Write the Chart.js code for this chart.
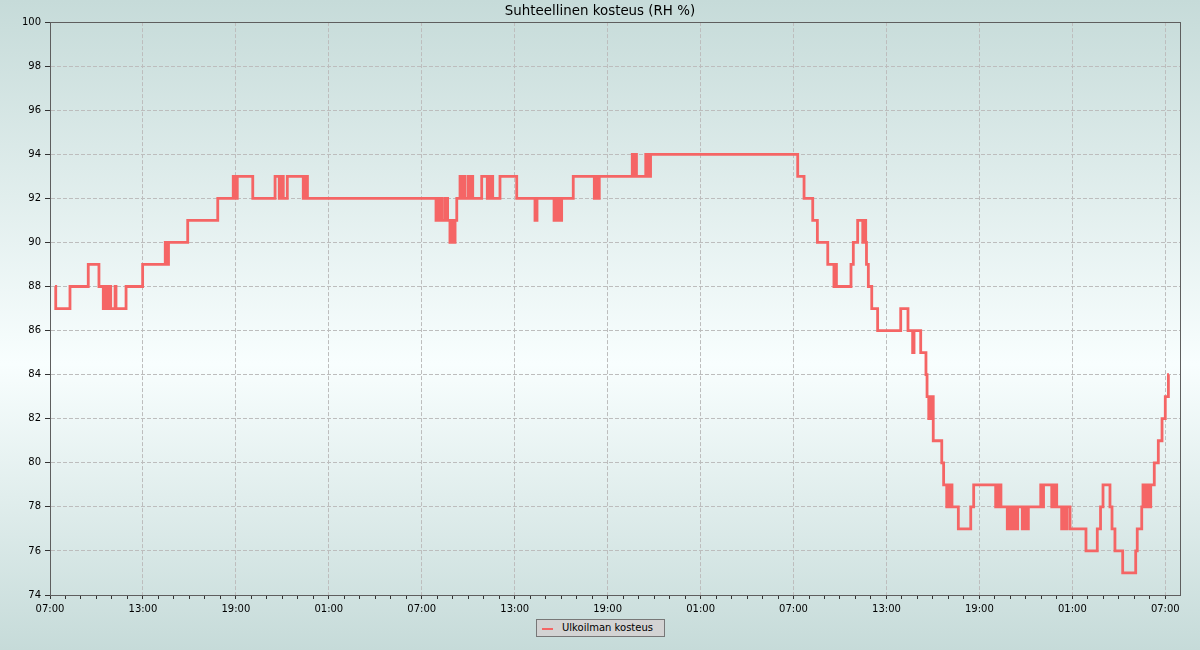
<!DOCTYPE html>
<html>
<head>
<meta charset="utf-8">
<script src="https://cdn.jsdelivr.net/npm/chart.js@4/dist/chart.umd.min.js"></script>
<style>
  html, body { margin: 0; padding: 0; }
  body {
    width: 1200px; height: 650px; position: relative; overflow: hidden;
    background: linear-gradient(to bottom, #c6dbd9 0%, #f8fefe 56%, #c6dbd9 100%);
    font-family: "DejaVu Sans", sans-serif;
  }
  #chart { position: absolute; left: 0; top: 0; }
  .legend {
    position: absolute; left: 536px; top: 619px; width: 127px; height: 16px;
    background: #d3d3d3; border: 1px solid #777;
    font-size: 10px; color: #000; line-height: 16px; white-space: nowrap;
  }
  .legend .mark {
    position: absolute; left: 5px; top: 8px; width: 11px; height: 2px; background: #f56565;
  }
  .legend .txt { position: absolute; left: 25px; top: 0; }
</style>
</head>
<body>
<canvas id="chart" width="1200" height="650"></canvas>
<div class="legend"><span class="mark"></span><span class="txt">Ulkoilman kosteus</span></div>
<script>
// tunnit klo 07:00 alkaen
const hours = [
  0.32, 0.37, 1.29, 2.47, 3.16, 3.44, 3.52, 3.58, 3.65, 3.71, 3.76, 3.92, 4.20, 4.26, 4.91,
  5.98, 7.44, 7.55, 7.65, 8.89, 10.83, 11.83, 11.91, 11.98, 12.04, 12.09, 13.09,
  14.53, 14.80, 14.88, 14.95, 15.01, 15.06, 15.32, 16.35, 16.43, 16.49, 16.56, 16.62,
  24.92, 25.02, 25.11, 25.21, 25.31, 25.50, 25.67, 25.82, 25.92, 26.02, 26.15, 26.26,
  26.47, 26.57, 26.66, 26.79, 27.00, 27.08, 27.18, 27.29, 27.87, 28.23, 28.31, 28.41,
  28.47, 28.58, 29.05, 30.13, 31.31, 31.44, 32.54, 32.63, 32.73, 32.86, 32.96, 33.03,
  33.78, 35.14, 35.25, 35.34, 35.46, 37.59, 37.67, 37.76, 37.86, 38.46, 38.54, 38.64,
  38.70, 38.77, 48.27, 48.68, 49.24, 49.54, 50.21, 50.61, 50.71, 50.77, 51.71, 51.86,
  52.14, 52.47, 52.52, 52.66, 52.71, 52.83, 53.05, 53.43, 54.92, 55.39, 55.69, 55.78,
  56.21, 56.55, 56.62, 56.73, 56.79, 56.86, 56.91, 57.02, 57.57, 57.69, 57.89, 58.04,
  58.10, 58.17, 58.23, 58.64, 59.44, 59.63, 61.05, 61.14, 61.23, 61.33, 61.39, 61.80,
  61.91, 62.04, 62.17, 62.30, 62.47, 62.77, 62.88, 63.01, 63.16, 63.96, 64.04, 64.14,
  64.67, 64.75, 64.85, 64.95, 64.99, 65.31, 65.40, 65.53, 65.65, 65.85, 66.88, 67.61,
  67.82, 67.98, 68.43, 68.56, 68.75, 69.25, 70.09, 70.19, 70.48, 70.56, 70.65, 70.75,
  70.85, 70.94, 71.01, 71.06, 71.29, 71.55, 71.79, 72.00, 72.20, 72.24
];
const rh = [
  88, 87, 88, 89, 88, 87, 88, 87, 88, 87, 88, 87, 88, 87, 88,
  89, 90, 89, 90, 91, 92, 93, 92, 93, 92, 93, 92,
  93, 92, 93, 92, 93, 92, 93, 92, 93, 92, 93, 92,
  91, 92, 91, 92, 91, 92, 91, 90, 91, 90, 91, 92,
  93, 92, 93, 92, 93, 92, 93, 92, 93, 92, 93, 92,
  93, 92, 93, 92, 91, 92, 91, 92, 91, 92, 91, 92,
  93, 92, 93, 92, 93, 94, 93, 94, 93, 94, 93, 94,
  93, 94, 93, 92, 91, 90, 89, 88, 89, 88, 89, 90,
  91, 90, 91, 90, 89, 88, 87, 86, 87, 86, 85, 86,
  85, 84, 83, 82, 83, 82, 83, 81, 80, 79, 78, 79,
  78, 79, 78, 77, 78, 79, 78, 79, 78, 79, 78, 77,
  78, 77, 78, 77, 78, 77, 78, 77, 78, 79, 78, 79,
  78, 79, 78, 79, 78, 77, 78, 77, 78, 77, 76, 77,
  78, 79, 78, 77, 76, 75, 76, 77, 78, 79, 78, 79,
  78, 79, 78, 79, 80, 81, 82, 83, 84, 84
];
const yMin = 74;
const yMax = 100;
const yStep = 2;
const xMax = 72.95;
const lastTickHour = 72;
const startHour = 7;
const labelEvery = 6;

const points = hours.map((h, i) => ({ x: h, y: rh[i] }));

function isMajor(v) {
  return Math.abs(v - Math.round(v / labelEvery) * labelEvery) < 0.001;
}

function hourLabel(v) {
  if (!isMajor(v)) return '';
  const h = (startHour + Math.round(v)) % 24;
  return (h < 10 ? '0' : '') + h + ':00';
}

const framePlugin = {
  id: 'frame',
  afterDraw(chart) {
    const a = chart.chartArea;
    const ctx = chart.ctx;
    ctx.save();
    ctx.strokeStyle = '#5e5e5e';
    ctx.lineWidth = 1;
    ctx.strokeRect(Math.round(a.left) + 0.5, Math.round(a.top) + 0.5,
      Math.round(a.right - a.left), Math.round(a.bottom - a.top));
    ctx.restore();
  }
};

new Chart(document.getElementById('chart'), {
  type: 'line',
  data: {
    datasets: [{
      label: 'Ulkoilman kosteus',
      data: points,
      borderColor: '#f56565',
      borderWidth: 2.8,
      pointRadius: 0,
      stepped: true,
      fill: false
    }]
  },
  options: {
    responsive: false,
    animation: false,
    devicePixelRatio: 1,
    layout: { padding: { left: 20, right: 20, top: 0, bottom: 0 } },
    plugins: {
      legend: { display: false },
      tooltip: { enabled: false },
      title: {
        display: true,
        text: 'Suhteellinen kosteus (RH %)',
        color: '#000',
        font: { family: 'DejaVu Sans', size: 13.4, weight: 'normal' },
        padding: { top: 3, bottom: 3 }
      }
    },
    scales: {
      x: {
        type: 'linear',
        min: 0,
        max: xMax,
        afterFit(scale) { scale.height = 55; },
        afterBuildTicks(scale) {
          // tunnin välein pikkutikit, nimiöt 6 h välein
          const t = [];
          for (let v = 0; v <= lastTickHour; v++) t.push({ value: v });
          scale.ticks = t;
        },
        border: { display: true, color: '#5e5e5e', width: 1, dash: [4, 2] },
        grid: {
          color: c => (c.tick && isMajor(c.tick.value)) ? '#bdbdbd' : 'rgba(0,0,0,0)',
          tickColor: '#333',
          tickLength: 4,
          lineWidth: 1
        },
        ticks: {
          autoSkip: false,
          maxRotation: 0,
          padding: 4,
          color: '#000',
          font: { family: 'DejaVu Sans', size: 10 },
          callback: v => hourLabel(v)
        }
      },
      y: {
        min: yMin,
        max: yMax,
        afterFit(scale) { scale.width = 30; },
        border: { display: true, color: '#5e5e5e', width: 1, dash: [4, 2] },
        grid: { color: '#bdbdbd', tickColor: '#333', tickLength: 5, lineWidth: 1 },
        ticks: {
          stepSize: yStep,
          padding: 4,
          color: '#000',
          font: { family: 'DejaVu Sans', size: 10 }
        }
      }
    }
  },
  plugins: [framePlugin]
});
</script>
</body>
</html>
